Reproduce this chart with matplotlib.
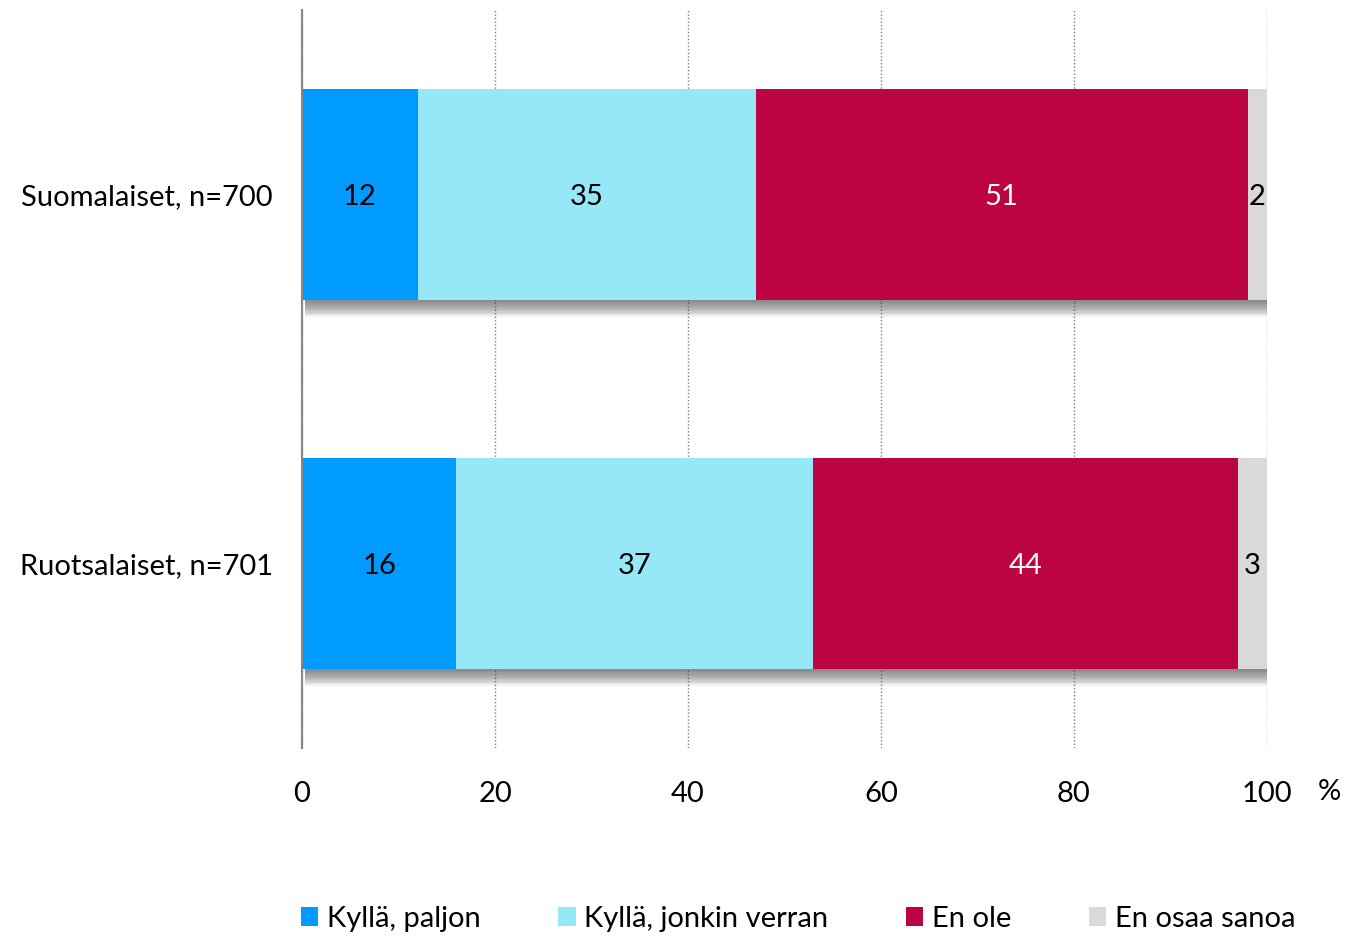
import numpy as np
import matplotlib.pyplot as plt
import matplotlib.patheffects as pe
from matplotlib.patches import Patch

plt.rcParams['font.family'] = ['Lato', 'DejaVu Sans']

# -------------------------------------------------
# Data
# -------------------------------------------------
groups = ["Suomalaiset, n=700", "Ruotsalaiset, n=701"]
series = ["Kyllä, paljon", "Kyllä, jonkin verran", "En ole", "En osaa sanoa"]
paljon = [12, 16]
jonkin = [35, 37]
en_ole = [51, 44]
eos = [2, 3]
xticks = [0, 20, 40, 60, 80, 100]

colors = ["#009BFF", "#96E8F8", "#BB0441", "#D9D9D9"]
text_colors = ["black", "black", "white", "black"]
FS = 21

# -------------------------------------------------
# Figure
# -------------------------------------------------
fig = plt.figure(figsize=(13.53, 9.36), dpi=100)
ax = fig.add_axes([302 / 1353, 1 - 748 / 936, (1267 - 302) / 1353, (748 - 10) / 936])

y = np.arange(len(groups))
all_vals = [paljon, jonkin, en_ole, eos]
totals = np.sum(np.array(all_vals), axis=0)

# soft shadow under each bar: stacked offset shadows, darkest next to the bar
shadows = [pe.SimplePatchShadow(offset=(2, -d), shadow_rgbFace="#404040", alpha=0.07)
           for d in range(1, 13)]
ax.barh(y, totals, height=0.573, color="white", zorder=2, path_effects=shadows)

left = np.zeros(len(groups))
for vals, col, tcol, name in zip(all_vals, colors, text_colors, series):
    bars = ax.barh(y, vals, left=left, height=0.573, color=col, label=name, zorder=3)
    for b, v in zip(bars, vals):
        ax.text(b.get_x() + b.get_width() / 2, b.get_y() + b.get_height() / 2, str(v),
                ha="center", va="center_baseline", color=tcol, fontsize=FS, zorder=5)
    left += np.array(vals)

ax.set_xlim(0, 100)
ax.set_ylim(1.5, -0.5)
ax.set_xticks(xticks)
ax.set_xticklabels([str(t) for t in xticks], fontsize=FS)
ax.set_yticks(y)
ax.set_yticklabels(groups, fontsize=FS)
ax.tick_params(axis="both", length=0)
ax.tick_params(axis="x", pad=24)
ax.tick_params(axis="y", pad=21)

ax.grid(axis="x", linestyle=(0, (1, 1.5)), color="#7f7f7f", linewidth=1, zorder=0)
for s in ["top", "right", "bottom"]:
    ax.spines[s].set_visible(False)
ax.spines["left"].set_color("#868686")
ax.spines["left"].set_linewidth(1.5)
ax.spines["left"].set_zorder(4)

ax.text(1.065, -44 / 738, "%", transform=ax.transAxes, ha="center", va="center", fontsize=FS)

handles = [Patch(facecolor=c, edgecolor="none") for c in colors]
fig.legend(handles, series, loc="center", bbox_to_anchor=(0.59, 1 - 919 / 936), ncol=4,
           frameon=False, fontsize=FS, handlelength=0.6, handleheight=0.65,
           handletextpad=0.3, columnspacing=2.65)

fig.savefig("out.png", dpi=100)
